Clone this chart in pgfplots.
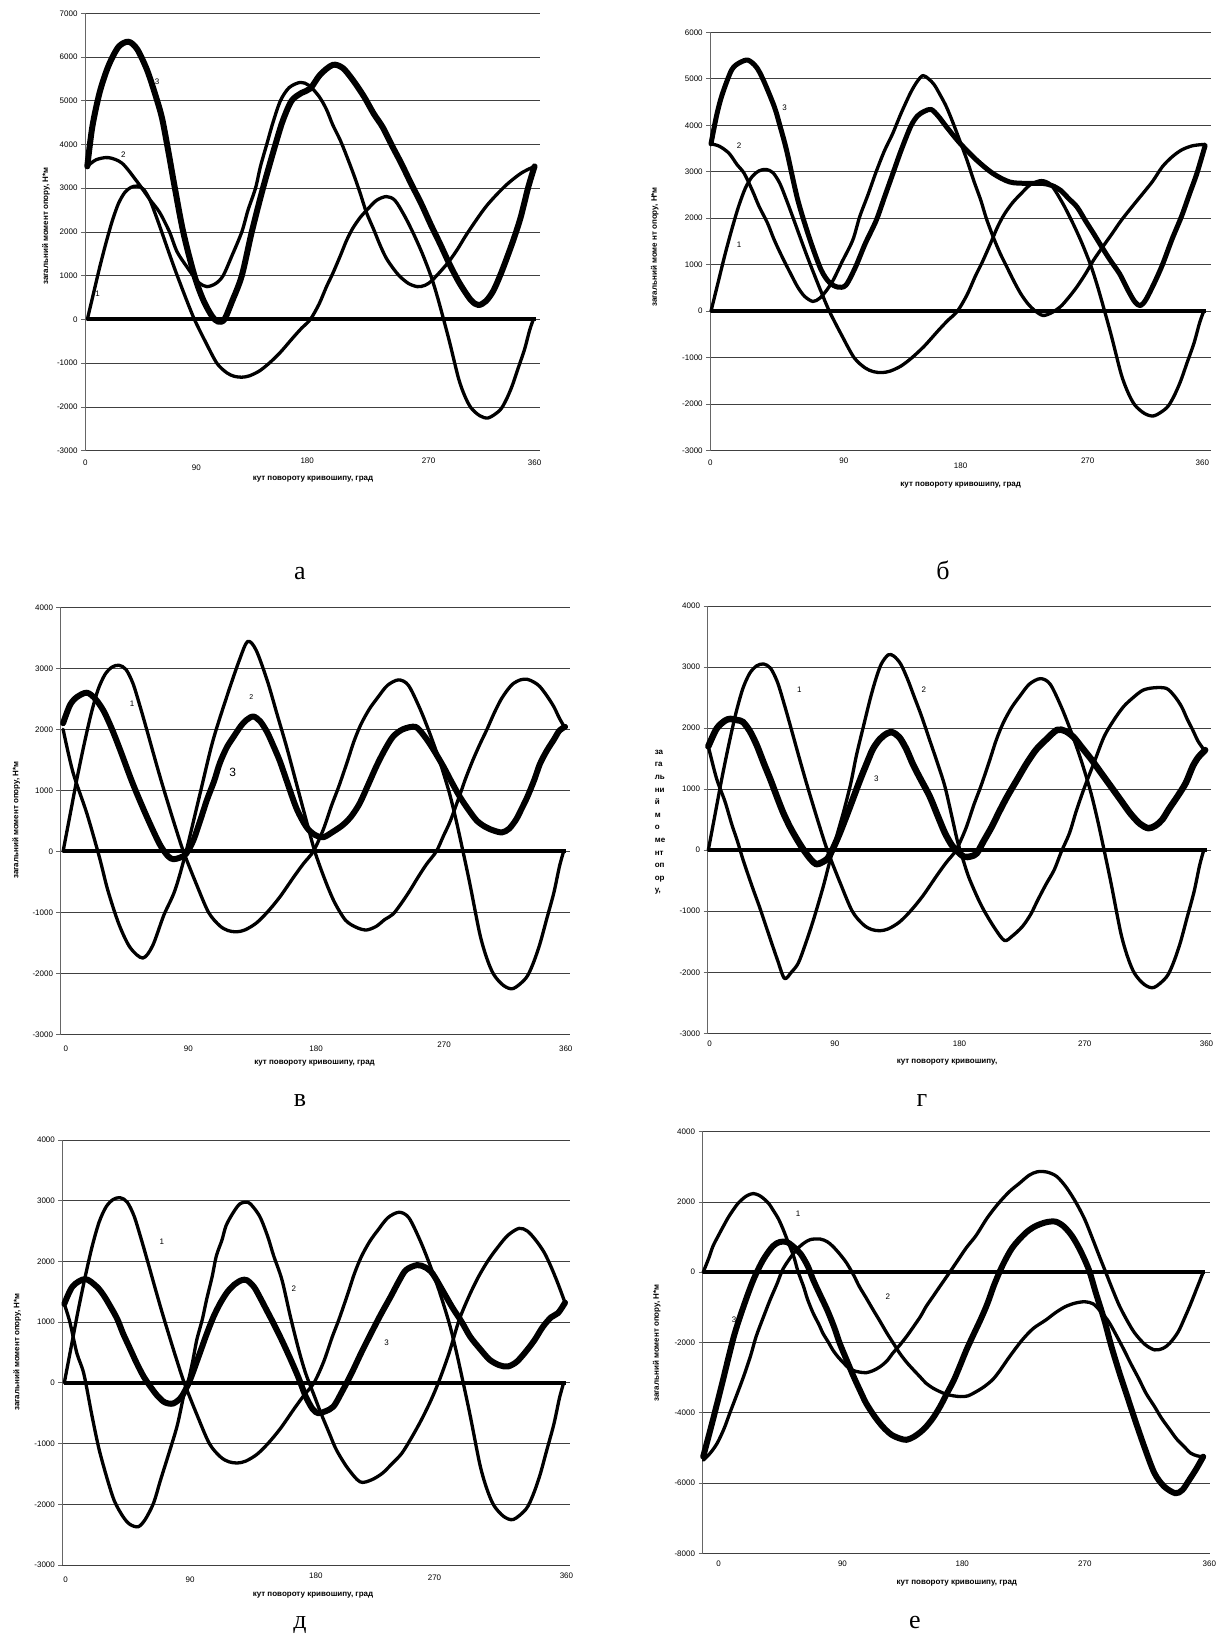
\documentclass[border=0pt]{standalone}
\usepackage{fontspec}
\setmainfont{Liberation Sans}
\newfontfamily\capfont{Liberation Serif}
\usepackage{pgfplots}
\pgfplotsset{compat=1.18}
\usepackage{pgfplotstable}

% ---------- data ----------
\pgfplotstableread[row sep=\\]{x y\\0 0\\5 600\\10 1200\\15 1750\\20 2250\\25 2650\\30 2900\\35 3020\\40 3050\\45 2980\\50 2750\\55 2380\\60 1980\\65 1570\\70 1170\\75 790\\80 420\\86 0\\95 -520\\104 -1000\\112 -1220\\118 -1300\\124 -1320\\130 -1290\\138 -1180\\146 -1000\\155 -750\\165 -420\\172 -200\\179 0\\186 350\\192 750\\197 1050\\203 1450\\208 1800\\213 2080\\219 2330\\225 2520\\232 2720\\240 2810\\247 2720\\255 2350\\262 1950\\269 1500\\276 980\\281 520\\286 0\\291 -540\\298 -1350\\303 -1750\\308 -2020\\315 -2200\\322 -2250\\331 -2080\\336 -1850\\341 -1520\\346 -1100\\351 -680\\355 -250\\358 0\\}\cOne

\pgfplotstableread[row sep=\\]{x y\\0 3500\\7 3650\\17 3700\\28 3570\\40 3150\\50 2750\\58 2450\\66 2000\\72 1550\\80 1200\\85 1000\\90 830\\96 750\\103 820\\109 1000\\116 1450\\124 2000\\129 2500\\135 3000\\139 3500\\144 4000\\149 4500\\155 5000\\162 5300\\171 5420\\178 5350\\186 5100\\192 4800\\197 4450\\203 4100\\208 3750\\214 3300\\219 2890\\224 2450\\230 2050\\235 1700\\240 1400\\246 1150\\251 980\\258 820\\265 750\\271 780\\277 900\\289 1280\\297 1600\\305 1970\\320 2580\\335 3040\\348 3340\\359 3500\\}\aTwo
\pgfplotstableread[row sep=\\]{x y\\0 3500\\4 4400\\10 5200\\17 5800\\25 6230\\33 6350\\40 6180\\48 5700\\55 5100\\60 4600\\65 3850\\70 3050\\77 2000\\86 1000\\93 450\\100 80\\105 -50\\110 0\\116 400\\124 1000\\132 2000\\141 3000\\151 4000\\157 4550\\164 5000\\172 5180\\179 5280\\187 5600\\197 5820\\205 5750\\213 5480\\222 5100\\230 4700\\237 4400\\245 3950\\252 3570\\260 3100\\268 2650\\276 2150\\283 1740\\291 1250\\299 820\\308 440\\314 330\\320 420\\326 660\\332 1050\\338 1500\\343 1900\\348 2350\\354 3030\\359 3500\\}\aThree

\pgfplotstableread[row sep=\\]{x y\\0 3600\\6 3550\\13 3400\\19 3150\\24 2970\\30 2600\\35 2250\\41 1900\\46 1530\\52 1150\\58 800\\63 520\\68 320\\74 210\\79 280\\84 450\\89 680\\95 1050\\103 1530\\108 2030\\114 2500\\120 3000\\126 3450\\132 3820\\138 4250\\145 4700\\150 4950\\154 5070\\158 5000\\162 4880\\166 4680\\171 4400\\176 4040\\181 3650\\186 3250\\191 2800\\196 2390\\200 2000\\205 1600\\210 1250\\215 950\\220 650\\225 380\\230 170\\235 20\\241 -90\\247 -40\\254 100\\260 300\\266 530\\272 800\\278 1100\\285 1400\\291 1650\\298 1950\\306 2250\\314 2540\\321 2800\\328 3110\\335 3320\\342 3470\\350 3560\\359 3590\\}\bTwo
\pgfplotstableread[row sep=\\]{x y\\0 3600\\4 4200\\8 4650\\15 5190\\21 5350\\27 5400\\33 5250\\38 4975\\46 4400\\50 4000\\55 3450\\63 2400\\72 1530\\80 890\\86 620\\92 520\\98 560\\105 950\\112 1450\\120 1950\\126 2450\\132 2950\\138 3450\\145 3970\\150 4200\\155 4300\\160 4340\\165 4200\\171 3970\\181 3610\\193 3250\\205 2960\\217 2780\\229 2750\\241 2750\\248 2700\\254 2600\\260 2420\\266 2240\\272 1950\\278 1670\\284 1380\\290 1100\\297 800\\303 450\\308 200\\312 120\\316 250\\322 600\\328 1000\\335 1550\\342 2050\\348 2550\\353 2960\\359 3560\\}\bThree

\pgfplotstableread[row sep=\\]{x y\\0 2000\\7 1300\\17 620\\26 -100\\32 -640\\40 -1200\\48 -1580\\57 -1750\\64 -1550\\72 -1050\\80 -640\\88 0\\98 950\\107 1800\\117 2530\\126 3130\\132 3440\\138 3300\\146 2800\\153 2250\\160 1700\\167 1100\\174 500\\180 0\\187 -450\\194 -830\\202 -1130\\210 -1250\\217 -1290\\224 -1230\\230 -1120\\236 -1030\\242 -850\\248 -645\\254 -420\\260 -210\\267 0\\272 250\\277 500\\284 940\\288 1200\\293 1490\\298 1750\\303 1990\\308 2250\\313 2480\\318 2650\\322 2750\\327 2810\\332 2820\\337 2770\\341 2700\\346 2550\\351 2370\\355 2180\\359 2020\\}\cTwo
\pgfplotstableread[row sep=\\]{x y\\0 2100\\5 2400\\10 2530\\17 2600\\23 2500\\29 2300\\35 2000\\41 1650\\50 1100\\60 560\\69 120\\75 -80\\79 -130\\84 -100\\88 -40\\93 170\\98 500\\103 850\\108 1150\\112 1440\\117 1700\\122 1880\\127 2050\\131 2150\\136 2210\\141 2130\\146 1950\\150 1750\\155 1480\\160 1150\\167 700\\174 400\\180 270\\186 230\\193 320\\200 430\\206 570\\212 780\\218 1080\\224 1390\\230 1660\\236 1880\\243 2000\\252 2040\\258 1900\\264 1700\\272 1390\\278 1130\\284 885\\290 680\\296 500\\302 400\\308 340\\314 310\\319 370\\324 520\\328 700\\332 890\\337 1170\\341 1430\\346 1650\\351 1830\\355 1980\\359 2040\\}\cThree

\pgfplotstableread[row sep=\\]{x y\\0 1700\\6 1170\\12 800\\17 420\\21 150\\25 -150\\29 -420\\33 -680\\37 -930\\41 -1200\\45 -1470\\50 -1800\\55 -2100\\60 -2000\\65 -1850\\70 -1550\\76 -1140\\83 -600\\87 -250\\90 0\\94 330\\98 650\\103 1100\\107 1550\\112 2020\\117 2480\\121 2800\\125 3050\\130 3200\\134 3180\\139 3050\\144 2800\\149 2500\\154 2200\\160 1800\\166 1400\\171 1040\\176 550\\180 150\\184 -150\\188 -430\\194 -750\\199 -980\\207 -1280\\214 -1480\\220 -1400\\227 -1250\\233 -1050\\238 -820\\244 -560\\250 -320\\255 -30\\261 280\\266 650\\272 1040\\279 1450\\286 1860\\293 2130\\300 2350\\307 2500\\314 2620\\322 2660\\331 2650\\337 2520\\342 2350\\346 2150\\350 1970\\354 1780\\359 1620\\}\dTwo
\pgfplotstableread[row sep=\\]{x y\\0 1700\\6 1990\\12 2120\\16 2150\\21 2130\\25 2100\\30 1950\\35 1720\\40 1430\\45 1150\\50 850\\54 620\\59 380\\64 180\\69 0\\74 -150\\78 -230\\82 -200\\86 -140\\90 20\\95 280\\100 570\\105 870\\110 1170\\115 1450\\119 1660\\124 1820\\129 1910\\133 1930\\138 1850\\143 1660\\148 1400\\153 1180\\160 880\\166 550\\171 280\\176 80\\180 -20\\185 -110\\190 -100\\194 -50\\199 150\\205 390\\210 620\\216 880\\223 1150\\230 1420\\237 1650\\244 1810\\252 1970\\258 1950\\264 1850\\270 1680\\277 1480\\284 1260\\291 1040\\298 820\\305 600\\312 430\\318 360\\323 400\\328 500\\333 680\\339 880\\345 1100\\350 1370\\354 1520\\359 1640\\}\dThree

\pgfplotstableread[row sep=\\]{x y\\0 1300\\4 1000\\9 490\\14 150\\20 -560\\25 -1100\\31 -1600\\36 -1950\\42 -2200\\47 -2330\\53 -2370\\58 -2250\\64 -1980\\69 -1600\\75 -1160\\81 -700\\86 -170\\88 -60\\92 350\\95 710\\99 1050\\102 1370\\106 1750\\109 2090\\113 2350\\116 2590\\121 2800\\126 2950\\132 2970\\137 2850\\141 2700\\146 2400\\150 2100\\156 1700\\162 1100\\168 550\\173 160\\179 -200\\184 -500\\190 -830\\195 -1100\\203 -1400\\212 -1630\\220 -1600\\228 -1490\\235 -1330\\242 -1160\\249 -900\\256 -610\\263 -280\\269 50\\276 500\\283 1030\\290 1420\\297 1750\\304 2020\\311 2240\\318 2430\\326 2545\\332 2500\\338 2350\\344 2150\\349 1910\\354 1630\\359 1320\\}\eTwo
\pgfplotstableread[row sep=\\]{x y\\0 1300\\6 1590\\15 1710\\23 1590\\28 1450\\33 1260\\38 1050\\42 820\\47 570\\52 320\\57 100\\62 -70\\67 -220\\72 -320\\78 -340\\84 -230\\90 40\\97 480\\102 800\\107 1090\\112 1320\\117 1500\\122 1620\\127 1690\\131 1690\\136 1580\\140 1420\\145 1200\\150 980\\156 700\\162 400\\168 80\\173 -220\\178 -430\\182 -500\\187 -470\\193 -390\\199 -150\\206 160\\213 500\\220 820\\227 1130\\234 1420\\240 1680\\245 1860\\253 1940\\259 1900\\264 1800\\271 1530\\278 1250\\285 1000\\291 760\\298 560\\305 380\\312 290\\318 270\\324 340\\330 490\\337 700\\343 920\\349 1080\\354 1150\\359 1320\\}\eThree

\pgfplotstableread[row sep=\\]{x y\\0 0\\4 400\\7 740\\11 1050\\14.5 1310\\18 1560\\22 1800\\25 1960\\29 2110\\32 2190\\36 2240\\40 2190\\43 2110\\47 1960\\50 1780\\54 1520\\57.5 1210\\61 850\\65 450\\68 30\\72 -400\\75 -780\\79 -1170\\83 -1480\\86 -1740\\90 -2000\\93 -2210\\97 -2420\\101 -2590\\104 -2710\\108 -2800\\112 -2840\\117 -2860\\122 -2800\\127 -2690\\132 -2520\\136 -2310\\141 -2080\\146 -1830\\151 -1550\\156 -1260\\160 -980\\165 -690\\170 -400\\177 0\\183 350\\189 700\\196 1050\\204 1550\\212 1960\\220 2300\\227 2530\\234 2760\\240 2860\\247 2850\\254 2720\\261 2400\\268 1960\\274 1500\\279 1010\\284 500\\289 0\\294 -500\\299 -970\\305 -1420\\310 -1740\\317 -2050\\324 -2210\\330 -2170\\335 -2020\\341 -1700\\346 -1270\\350 -900\\354 -500\\359 0\\}\fOne
\pgfplotstableread[row sep=\\]{x y\\0 -5350\\5 -5150\\10 -4870\\15 -4450\\19 -4020\\24 -3500\\29 -2970\\34 -2380\\38 -1830\\43 -1300\\48 -790\\53 -330\\57 70\\62 380\\67 640\\72 820\\77 930\\84 945\\89 870\\93 740\\98 520\\103 260\\108 -80\\112 -400\\117 -730\\122 -1070\\127 -1400\\132 -1740\\137 -2050\\141 -2300\\146 -2560\\151 -2780\\156 -2990\\160 -3160\\165 -3300\\170 -3400\\175 -3480\\180 -3520\\185 -3540\\190 -3520\\196 -3400\\202 -3250\\208 -3050\\213 -2800\\220 -2400\\229 -1930\\237 -1600\\246 -1360\\253 -1150\\260 -980\\267 -880\\274 -840\\280 -900\\285 -1100\\291 -1400\\296 -1750\\302 -2200\\307 -2600\\313 -3050\\318 -3450\\324 -3820\\329 -4150\\335 -4480\\340 -4750\\345 -4950\\350 -5150\\355 -5230\\359 -5250\\}\fTwo
\pgfplotstableread[row sep=\\]{x y\\0 -5250\\7 -4200\\14 -3100\\22 -1830\\29 -970\\36 -220\\43 350\\50 740\\55 860\\60 860\\65 720\\70 520\\75 180\\79 -220\\84 -650\\89 -1070\\94 -1560\\98 -2020\\103 -2500\\108 -2970\\113 -3400\\117 -3730\\123 -4100\\129 -4400\\135 -4620\\141 -4730\\146 -4770\\151 -4690\\156 -4550\\160 -4400\\165 -4150\\170 -3830\\175 -3450\\180 -3070\\185 -2600\\189 -2210\\194 -1780\\199 -1360\\204 -900\\209 -350\\215 200\\222 700\\231 1100\\238 1300\\246 1420\\253 1440\\259 1300\\265 1020\\271 600\\277 60\\282 -600\\288 -1360\\293 -2100\\299 -2880\\305 -3600\\310 -4200\\317 -5000\\324 -5720\\331 -6100\\339 -6290\\344 -6200\\349 -5910\\354 -5600\\359 -5250\\}\fThree

\pgfplotstableread[row sep=\\]{x y\\0 0\\360 0\\}\zeroline

\newcommand{\tl}[2]{\raisebox{#1pt}{#2}}

\tikzset{
  lab/.style={font=\fontsize{8}{9}\selectfont},
  cthin/.style={black, line width=3.3pt, line join=round, line cap=round},
  cthick/.style={black, line width=6pt, line join=round, line cap=round},
  czero/.style={black, line width=4pt},
}

\pgfplotsset{
  panel/.style={
    scale only axis, clip=false,
    axis y line*=left, axis x line*=bottom,
    x axis line style={draw=none},
    y axis line style={black!60, line width=0.8pt},
    tick align=outside, major tick length=4pt,
    ytick style={black!60, line width=0.8pt},
    xtick style={draw=none},
    ymajorgrids, grid style={black!75, line width=0.8pt},
    tick label style={font=\fontsize{8}{9}\selectfont, text=black},
    /pgf/number format/assume math mode=true,
    /pgf/number format/1000 sep={},
    scaled y ticks=false,
    every axis x label/.style={anchor=center, font=\bfseries\fontsize{8}{9}\selectfont},
    every axis y label/.style={anchor=center, rotate=90, font=\bfseries\fontsize{8}{9}\selectfont},
  },
}

\begin{document}
\begin{tikzpicture}
\useasboundingbox (0,0) rectangle (1227pt,1640pt);

% ---------- а ----------
\begin{axis}[panel, at={(85pt,1189.3pt)}, anchor=south west,
  width=454.6pt, height=437.4pt,
  xmin=-1.85, xmax=363.05, ymin=-3000, ymax=7000,
  ytick={-3000,-2000,...,7000},
  xtick={-1.6,87.5,176.5,274,359},
  xticklabels={\tl{-7.2}{0},\tl{-12.5}{90},\tl{-2.5}{180},\tl{-3.5}{270},\tl{-7.5}{360}},
  xlabel={кут повороту кривошипу, град},
  ylabel={загальний момент опору, Н*м},
  xlabel style={at={(axis description cs:0.5015,-0.0647)}},
  ylabel style={at={(axis description cs:-0.086,0.5137)}},
]
\addplot[czero] table {\zeroline};
\addplot[cthin, smooth] table {\cOne};
\addplot[cthin, smooth] table {\aTwo};
\addplot[cthick, smooth] table {\aThree};
\node[lab] at (axis cs:8.3,597) {1};
\node[lab] at (axis cs:28.9,3761) {2};
\node[lab] at (axis cs:56,5437) {3};
\end{axis}

% ---------- б ----------
\begin{axis}[panel, at={(710.2pt,1189.3pt)}, anchor=south west,
  width=500.8pt, height=418.4pt,
  xmin=-0.58, xmax=363.3, ymin=-3000, ymax=6000,
  ytick={-3000,-2000,...,6000},
  xtick={-0.4,96.5,181.4,273.7,357},
  xticklabels={\tl{-7.2}{0},\tl{-5.5}{90},\tl{-10.5}{180},\tl{-4.5}{270},\tl{-7.5}{360}},
  xlabel={кут повороту кривошипу, град},
  ylabel={загальний моме нт опору, Н*м},
  xlabel style={at={(axis description cs:0.5002,-0.082)}},
  ylabel style={at={(axis description cs:-0.1106,0.4869)}},
]
\addplot[czero] table {\zeroline};
\addplot[cthin, smooth] table {\cOne};
\addplot[cthin, smooth] table {\bTwo};
\addplot[cthick, line width=5pt, smooth] table {\bThree};
\node[lab] at (axis cs:20.5,1439) {1};
\node[lab] at (axis cs:20.5,3555) {2};
\node[lab] at (axis cs:53.4,4386) {3};
\end{axis}

% ---------- в ----------
\begin{axis}[panel, at={(60.5pt,605.7pt)}, anchor=south west,
  width=509.7pt, height=427pt,
  xmin=-1.86, xmax=362.7, ymin=-3000, ymax=4000,
  ytick={-3000,-2000,...,4000},
  xtick={1.9,89.6,181,272.5,359.5},
  xticklabels={\tl{-9.6}{0},\tl{-9.2}{90},\tl{-9.2}{180},\tl{-4.9}{270},\tl{-9.2}{360}},
  xlabel={кут повороту кривошипу, град},
  ylabel={загальний момент опору, Н*м},
  xlabel style={at={(axis description cs:0.4985,-0.0679)}},
  ylabel style={at={(axis description cs:-0.0871,0.5019)}},
]
\addplot[czero] table {\zeroline};
\addplot[cthin, smooth] table {\cOne};
\addplot[cthin, smooth] table {\cTwo};
\addplot[cthick, smooth] table {\cThree};
\node[lab] at (axis cs:49.3,2426) {1};
\node[font=\fontsize{7}{8}\selectfont] at (axis cs:134.7,2536) {2};
\node[font=\fontsize{12}{14}\selectfont] at (axis cs:121.3,1290) {3};
\end{axis}

% ---------- г ----------
\begin{axis}[panel, at={(707.5pt,606.7pt)}, anchor=south west,
  width=503.5pt, height=427.3pt,
  xmin=-0.58, xmax=363.25, ymin=-3000, ymax=4000,
  ytick={-3000,-2000,...,4000},
  xtick={1,91.5,181.5,272,360},
  xticklabels={\tl{-2.2}{0},\tl{-2.2}{90},\tl{-2.2}{180},\tl{-2.2}{270},\tl{-2.2}{360}},
  xlabel={кут повороту кривошипу,},
  ylabel={за\\га\\ль\\ни\\й\\м\\о\\ме\\нт\\оп\\ор\\у,},
  xlabel style={at={(axis description cs:0.4757,-0.0679)}},
  ylabel style={at={(axis description cs:-0.0943,0.4938)}, rotate=-90, align=left, font=\bfseries\fontsize{8}{12.6}\selectfont},
]
\addplot[czero] table {\zeroline};
\addplot[cthin, smooth] table {\cOne};
\addplot[cthin, smooth] table {\dTwo};
\addplot[cthick, line width=6.5pt, smooth] table {\dThree};
\node[lab] at (axis cs:65.7,2624) {1};
\node[lab] at (axis cs:155.8,2624) {2};
\node[lab] at (axis cs:121.4,1177) {3};
\end{axis}

% ---------- д ----------
\begin{axis}[panel, at={(62.4pt,75pt)}, anchor=south west,
  width=507.8pt, height=425pt,
  xmin=-1.36, xmax=362.7, ymin=-3000, ymax=4000,
  ytick={-3000,-2000,...,4000},
  xtick={1,90.2,180.3,265.4,360},
  xticklabels={\tl{-9.5}{0},\tl{-9.5}{90},\tl{-4.5}{180},\tl{-7.9}{270},\tl{-3.9}{360}},
  xlabel={кут повороту кривошипу, град},
  ylabel={загальний момент опору, Н*м},
  xlabel style={at={(axis description cs:0.4935,-0.0706)}},
  ylabel style={at={(axis description cs:-0.089,0.5012)}},
]
\addplot[czero] table {\zeroline};
\addplot[cthin, smooth] table {\cOne};
\addplot[cthin, smooth] table {\eTwo};
\addplot[cthick, smooth] table {\eThree};
\node[lab] at (axis cs:70,2326) {1};
\node[lab] at (axis cs:164.6,1557) {2};
\node[lab] at (axis cs:231,662) {3};
\end{axis}

% ---------- е ----------
\begin{axis}[panel, at={(702.5pt,86.7pt)}, anchor=south west,
  width=507.1pt, height=421.6pt,
  xmin=-0.5, xmax=363.6, ymin=-8000, ymax=4000,
  ytick={-8000,-6000,...,4000},
  xtick={11.1,100,186,274,363.4},
  xticklabels={\tl{2.1}{0},\tl{3.1}{90},\tl{-0.9}{180},\tl{3.1}{270},\tl{3.1}{360}},
  xlabel={кут повороту кривошипу, град},
  ylabel={загальний момент опору, Н*м},
  xlabel style={at={(axis description cs:0.5015,-0.0712)}},
  ylabel style={at={(axis description cs:-0.0901,0.4988)}},
]
\addplot[czero] table {\zeroline};
\addplot[cthin, smooth] table {\fOne};
\addplot[cthin, smooth] table {\fTwo};
\addplot[cthick, smooth] table {\fThree};
\node[lab] at (axis cs:68.1,1676) {1};
\node[lab] at (axis cs:132.6,-696) {2};
\node[lab] at (axis cs:22.2,-1360) {3};
\end{axis}

% ---------- captions ----------
\begin{scope}[every node/.style={font=\capfont\fontsize{26}{30}\selectfont, anchor=base, inner sep=0pt}]
\node at (300pt,1060pt) {а};
\node at (943pt,1060pt) {б};
\node at (300pt,533pt) {в};
\node at (922pt,533pt) {г};
\node at (300pt,11pt) {д};
\node at (915pt,11pt) {е};
\end{scope}
\end{tikzpicture}
\end{document}
